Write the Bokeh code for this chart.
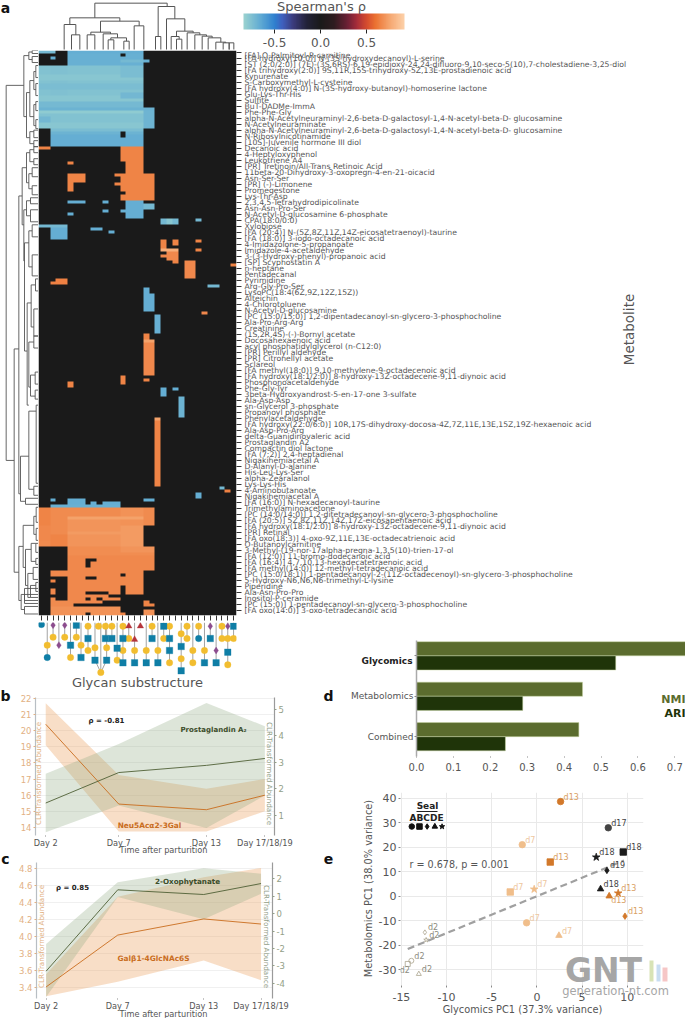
from bokeh.plotting import figure
from bokeh.layouts import column, row
from bokeh.models import Range1d, LinearAxis, FixedTicker, Label, LinearColorMapper, ColorBar, ColumnDataSource, Grid
from bokeh.core.properties import value
from bokeh.embed import file_html
from bokeh.resources import INLINE
import numpy as np

FONT = "DejaVu Sans"
GREY = "#555555"

# ------------------------------------------------------------------ heatmap data
METABOLITES = [
 "[FA] O-Palmitoyl-R-carnitine","[FA hydroxy(10:0)] N-(3S-hydroxydecanoyl)-L-serine",
 "[ST (2:0/2:0)] (7E)-(3S,6RS)-6,19-epidioxy-24,24-difluoro-9,10-seco-5(10),7-cholestadiene-3,25-diol",
 "[FA trihydroxy(2:0)]      9S,11R,15S-trihydroxy-5Z,13E-prostadienoic acid","Kynurenate","S-Carboxymethyl-L-cysteine",
 "[FA hydroxy(4:0)] N-(3S-hydroxy-butanoyl)-homoserine lactone","Glu-Lys-Thr-His","Sulfite","BuT-DADMe-ImmA","Phe-Phe-Gly",
 "alpha-N-Acetylneuraminyl-2,6-beta-D-galactosyl-1,4-N-acetyl-beta-D- glucosamine","N-Acetylneuraminate",
 "alpha-N-Acetylneuraminyl-2,6-beta-D-galactosyl-1,4-N-acetyl-beta-D- glucosamine","N-Ribosylnicotinamide",
 "[10S]-Juvenile hormone III diol","Decanoic acid","4-Heptyloxyphenol","Leukotriene A4",
 "[PR] Tretinoin/All-Trans Retinoic Acid","11beta-20-Dihydroxy-3-oxopregn-4-en-21-oicacid","Asn-Ser-Ser","[PR] (-)-Limonene",
 "Promegestone","Lys-Thr-Asp","2,3,4,5-Tetrahydrodipicolinate","Asn-Asn-Pro-Ser","N-Acetyl-D-glucosamine 6-phosphate",
 "CPA(18:0/0:0)","Xylobiose","[FA (20:4)] N-(5Z,8Z,11Z,14Z-eicosatetraenoyl)-taurine","[FA (18:0)] 3-iodo-octadecanoic acid",
 "4-Imidazolone-5-propanoate","Imidazole-4-acetaldehyde","3-(3-Hydroxy-phenyl)-propanoic acid","[SP] Scyphostatin A","n-heptane",
 "Pentadecanal","Pyrimidine","Arg-Gly-Pro-Ser","LysoPC(18:4(6Z,9Z,12Z,15Z))","Alteichin","4-Chlorotoluene","N-Acetyl-D-glucosamine",
 "[PC (15:0/15:0)] 1,2-dipentadecanoyl-sn-glycero-3-phosphocholine","Ala-Pro-Arg-Arg","Creatinine","(1S,2R,4S)-(-)-Bornyl acetate",
 "Docosahexaenoic acid","acyl phosphatidylglycerol (n-C12:0)","[PR] Perillyl aldehyde","[PR] Citronellyl acetate","Sclareol",
 "[FA methyl(18:0)]        9,10-methylene-9-octadecenoic acid","[FA hydroxy(18:1/2:0)] 8-hydroxy-13Z-octadecene-9,11-diynoic acid",
 "Phosphonoacetaldehyde","Phe-Gly-Tyr","3beta-Hydroxyandrost-5-en-17-one 3-sulfate","Ala-Asp-Asp","sn-Glycerol 3-phosphate",
 "Propanoyl phosphate","Phenylacetaldehyde","[FA hydroxy(22:0/6:0)] 10R,17S-dihydroxy-docosa-4Z,7Z,11E,13E,15Z,19Z-hexaenoic acid",
 "Ala-Asp-Pro-Arg","delta-Guanidinovaleric acid","Prostaglandin A2","Compactin diol lactone","[FA (7:2)] 2,4-heptadienal",
 "Nigakihemiacetal A","D-Alanyl-D-alanine","His-Leu-Lys-Ser","alpha-Zearalanol","Lys-Lys-His","4-Aminobutanoate","Nigakihemiacetal A",
 "[FA (16:0)] N-hexadecanoyl-taurine","Trimethylaminoacetone","[PC (14:0/14:0)] 1,2-ditetradecanoyl-sn-glycero-3-phosphocholine",
 "[FA (20:5)] 5Z,8Z,11Z,14Z,17Z-eicosapentaenoic acid","[FA hydroxy(18:1/2:0)] 8-hydroxy-13Z-octadecene-9,11-diynoic acid",
 "[PR] Retinal","[FA oxo(18:3)] 4-oxo-9Z,11E,13E-octadecatrienoic acid","O-Butanoylcarnitine",
 "3-Methyl-(19-nor-17alpha-pregna-1,3,5(10)-trien-17-ol","[FA (12:0)] 11-bromo-dodecanoic acid",
 "[FA (16:4)] 4,7,10,13-hexadecatetraenoic acid","[FA methyl(14:0)] 12-methyl-tetradecanoic acid",
 "[PC (15:0/18:1)] 1-pentadecanoyl-2-(11Z-octadecenoyl)-sn-glycero-3-phosphocholine","5-Hydroxy-N6,N6,N6-trimethyl-L-lysine",
 "Piperidine","Ala-Asn-Pro-Pro","Inositol-P-ceramide","[PC (15:0)] 1-pentadecanoyl-sn-glycero-3-phosphocholine",
 "[FA oxo(14:0)] 3-oxo-tetradecanoic acid",
]
N_ROWS = 188
N_COLS = 34

# (first row, end row, first column, end column, Spearman rho) - later entries overwrite earlier ones
BLUE_TOP = [
 (0,1,0,3,-.72),(0,1,5,18,-.67),(1,5,5,18,-.68),(2,3,2,3,-.67),(1,2,14,15,0),(3,4,14,18,-.72),(3,4,18,19,-.68),
 (5,8,0,2,-.70),(5,19,0,18,-.76),(5,19,2,5,-.75),(8,10,0,18,-.78),(11,13,0,18,-.74),(15,17,0,18,-.78),(17,19,0,18,-.72),
 (5,9,14,18,-.74),(14,16,14,18,-.71),
 (19,26,0,20,-.76),(19,20,0,20,-.69),(20,21,0,20,-.80),(20,26,18,20,-.70),(22,24,0,2,-.71),(24,26,0,18,-.78),
 (26,32,2,18,-.69),(28,32,2,18,-.67),(26,27,2,18,-.74),(27,29,14,15,0),
]
ORANGE_UPPER = [
 (32,33,0,2,.65),(32,37,14,18,.65),(37,41,15,18,.65),(41,50,14,20,.65),(41,42,13,14,.65),(44,45,13,14,.65),(47,48,14,15,0),
 (41,44,5,8,.65),(44,47,5,6,.65),(37,38,5,6,.65),
]
SCATTERED = [
 (50,51,5,8,-.67),(50,51,11,12,-.67),(50,56,15,18,-.67),(51,53,18,20,-.72),(53,54,11,12,-.67),(53,54,14,15,-.68),(54,55,5,6,-.67),
 (56,58,21,24,-.72),(56,58,22,23,-.78),(56,57,27,28,-.72),(58,59,0,5,-.72),(59,63,2,5,-.67),(59,60,9,11,-.67),(60,61,12,13,-.67),
 (63,67,21,22,.65),(63,65,23,24,.65),(63,64,27,28,.65),(66,67,21,24,.78),(66,67,27,28,.65),(67,70,22,24,.66),(68,69,21,22,.66),(70,71,23,24,.65),
 (71,72,33,34,.65),(70,76,25,27,.66),(76,77,3,5,.64),(77,78,2,5,.64),(78,79,29,31,-.72),(79,81,18,19,-.67),(81,87,18,20,-.67),
 (87,88,28,29,.66),(88,94,20,21,-.68),(94,96,18,19,.65),(96,97,18,20,.74),(97,108,18,20,.66),(109,110,18,19,.65),(108,111,14,15,.65),
 (110,112,5,6,.65),(112,115,21,22,-.67),(112,113,23,24,-.67),(115,122,24,25,-.69),(122,123,20,21,.74),(123,145,20,21,.65),
 (145,146,31,32,-.72),(146,147,32,33,.64),(147,149,27,28,-.67),
 (149,150,2,3,-.67),(149,150,5,8,-.67),(149,150,18,20,-.67),(150,151,5,8,-.67),(150,151,9,10,-.67),(150,151,11,14,-.67),(151,152,2,14,-.68),
]
ORANGE_LOWER = [
 (152,158,0,20,.67),(152,158,0,2,.65),(152,158,14,18,.69),(155,158,5,14,.7),(158,165,0,18,.67),(158,165,5,14,.7),(158,165,14,18,.72),
 (158,163,0,2,.66),(161,165,2,5,.65),(155,156,5,18,.74),(160,161,5,18,.72),
 (165,173,5,20,.66),(165,168,5,20,.68),(165,167,14,20,.7),(169,170,8,10,0),(170,172,8,9,0),
 (173,181,5,18,.66),(173,175,2,5,.66),(174,175,14,15,0),(175,176,8,10,0),(176,177,2,3,.65),(178,188,14,15,0),
 (179,181,2,3,.66),(180,181,8,12,0),(181,182,8,11,0),(181,188,5,14,.66),(181,182,12,14,0),(182,183,8,9,0),(182,183,10,11,0),
 (183,184,11,14,0),(183,188,2,6,.67),(182,183,2,3,.67),(184,185,6,14,0),(183,184,18,19,.65),(184,185,18,20,.65),(186,188,18,20,.69),
 (185,188,2,14,.69),(187,188,8,9,0),(187,188,14,15,.65),
]

# ------------------------------------------------------------------ colour scale
CBAR_LOW, CBAR_HIGH = -.838, .913
RHO_STOPS = [-.838,-.65,-.5,-.42,-.3,-.15,0,.15,.3,.4,.5,.6,.75,.913]
RGB_STOPS = ["#9ad2d0","#5ea9d3","#2f80cf","#3f60bf","#3b3b7c","#222238","#1a1a1a","#2f1b20","#6f2036","#a82d3a","#d44b2f","#ec7231","#f5a56e","#fdd0a8"]

# ------------------------------------------------------------------ dendrograms (picture units: 1/3 pixel)
# (x left child, height left child, x right child, height right child, merge height)
TOP_MERGES = [
 (175,52,392,18,8),(100,72,250,62,52),(83,147,118,103,72),(105,147,130,147,103),(192,95,308,76,62),(293,147,322,147,76),
 (163,103,222,100,95),(152,147,175,147,103),(200,147,243,112,100),(223,118,270,122,112),(215,147,232,147,118),(262,147,278,147,122),
 (365,108,415,55,18),(357,147,373,147,108),(390,147,445,92,55),(420,108,470,97,92),(404,147,428,116,108),(420,147,436,147,116),
 (452,147,490,103,97),(475,147,510,107,103),(497,147,527,112,107),(515,147,553,125,112),(538,147,568,127,125),(560,147,578,147,127),
 (578,147,592,147,127),
]
# (x of merge, row of first child, x of first child, row of second child, x of second child)
LEFT_MERGES = [
 (17,11.6,70,136.4,41),(70,1.7,85,22,78),(85,.5,95,3,95),(95,0,114,1,114),(95,2,114,4,114),(78,14,88,29,88),(88,10,100,22,100),
 (100,7,106,13,106),(106,5,114,9,114),(106,11,114,15,114),(100,18,106,25,106),(106,17,114,20,114),(106,23,114,26,114),
 (88,27,100,31,100),(100,26.5,114,29,114),(100,30,114,32,114),
 (41,99.3,55,173.6,55),(55,48.4,65,147.5,60),(65,39,78,58,70),(78,34,88,44,85),(88,33,100,37,100),(100,32,114,34,114),(100,36,114,38,114),
 (85,41,95,46,95),(95,39,114,42,114),(95,45,110,48,114),(70,53,78,70,72),(78,50,90,55,90),(90,49,114,51,114),(90,53,114,57,114),
 (72,64,85,100,80),(85,60,95,72,95),(95,58,114,62,114),(95,68,114,75,114),(80,84,92,118,85),(92,78,105,92,100),(105,76,114,80,114),
 (100,86,114,95,114),(85,97,100,112,90),(100,95,114,99,114),(90,108,104,115,104),(104,107,114,111,114),(104,113,114,116,114),
 (60,135,85,150,75),(75,149,114,151,114),(85,120,107,146,100),(107,118,114,144,114),(100,145,114,148,114),
 (55,165,68,183,62),(68,158,100,172,75),(100,155,107,161,107),(107,152,114,157,114),(107,159,114,163,114),
 (75,166,92,178,82),(92,164,106,170,106),(106,164,114,167,114),(106,169,114,171,114),(82,174,98,182,90),(98,172,114,176,114),(90,178,106,182,114),
 (106,177,114,180,114),(62,181,72,186,72),(72,179,114,183,114),(72,185,114,187.5,114),(72,181,114,184,114),
]

# ------------------------------------------------------------------ glycan cartoons: (column, depth, kind)
GLYCAN_NODES = [
 (0,42,"glc"),(2,44,"neu"),(2,80,"gal"),(1,104,"gal"),(1,141,"glc"),(4,44,"neu"),(4,80,"gal"),(3,104,"neu"),(5,104,"nac"),(5,141,"gal"),
 (6,44,"nac"),(6,80,"gal"),(6.8,104,"gal"),(6.8,141,"nac"),(8,47,"gal"),(8,84,"nac"),(8,120,"gal"),(9.2,112,"gal"),(9.2,149,"nac"),
 (9.8,47,"gal"),(11,47,"gal"),(11,84,"nac"),(11.2,112,"gal"),(11.2,149,"nac"),(12.1,47,"gal"),(12.1,84,"nac"),(13,113,"nac"),(13,149,"gal"),
 (10.2,186,"gal"),(14,47,"gal"),(14,84,"nac"),(14,120,"gal"),(14,157,"nac"),(15,47,"fuc"),(15,84,"gal"),(16,87,"fuc"),(16,120,"gal"),(16,157,"nac"),
 (17,47,"fuc"),(18,120,"gal"),(18,157,"nac"),(19,47,"gal"),(19,84,"nac"),(20,120,"gal"),(20,157,"nac"),(21,47,"nac"),(21,84,"gal"),
 (22,47,"gal"),(22,84,"nac"),(22,120,"nac"),(22,157,"gal"),(24,70,"gal"),(24,108,"nac"),(24,145,"gal"),(24,181,"nac"),(25,47,"gal"),(25,84,"gal"),
 (26,120,"gal"),(26,157,"gal"),(27,47,"gal"),(27,84,"glc"),(28,120,"gal"),(28,157,"nac"),(29,47,"neu"),(29,84,"nac"),(30,120,"neu"),(30,157,"nac"),
 (31,47,"gal"),(31,84,"gal"),(32,47,"neu"),(32,84,"gal"),(32,125,"nac"),(32,163,"gal"),(33,47,"nac"),(33,84,"gal"),
]
GLYCAN_STYLE = {"gal":("circle","#f2bd2f"),"nac":("square","#0f7ea6"),"glc":("circle","#0f7ea6"),
                "neu":("diamond","#8c4c8e"),"fuc":("triangle","#b5343a")}

# ------------------------------------------------------------------ panels b, c
DAYS = [2,7,13,17]
DAY_LABELS = {2:"Day 2",7:"Day 7",13:"Day 13",17:"Day 17/18/19"}
B_NEU = [20.4,15.45,15.1,16.0]
B_NEU_HI = [21.7,17.25,16.4,17.0]
B_NEU_LO = [19.1,13.75,13.75,15.0]
B_PG = [1.47,2.62,2.89,3.15]
B_PG_HI = [2.57,3.7,5.24,4.37]
B_PG_LO = [.37,1.38,.53,1.75]
C_GAL = [3.41,4.02,4.21,4.15]
C_GAL_HI = [3.56,4.47,4.70,4.81]
C_GAL_LO = [3.30,3.47,3.72,3.49]
C_OXO = [-3.31,1.37,1.10,1.73]
C_OXO_HI = [-1.74,1.81,2.61,2.29]
C_OXO_LO = [-4.8,.95,-.32,1.14]

# ------------------------------------------------------------------ panel d
D_GROUPS = ["Combined","Metabolomics","Glycomics"]
D_NMI = [.44,.45,.735]
D_ARI = [.241,.288,.54]

# ------------------------------------------------------------------ panel e
E_X = [2.62,7.9,-1.62,9.56,6.57,1.48,7.75,-2.95,-.3,7.05,9.0,8.0,9.75,-1.14,2.44,-12.4,-12.26,-13.9,-14.3,-13.07]
E_Y = [38.6,27.9,21.0,18.0,15.9,13.9,10.5,1.7,2.8,2.9,1.2,0,-8.2,-10.9,-16.1,-14.8,-17.9,-26.4,-27.7,-31.8]
E_SEAL = ["circle","circle","circle","square","star","square","diamond","square","star","triangle","star","triangle","diamond","circle","triangle","diamond","star","circle","square","triangle"]
E_DAY = ["d13","d17","d7","d18","d18","d13","d19","d7","d7","d18","d13","d13","d13","d7","d7","d2","d2","d2","d2","d2"]
E_FIT_X = [-14.3,9.64]
E_FIT_Y = [-21.6,14.5]
SEAL_LEG_X = [-13.85,-13.0,-12.15,-11.3,-10.5]
SEAL_LEG_Y = [28.4]*5
SEAL_LEG_M = ["circle","square","diamond","triangle","star"]

# ------------------------------------------------------------------ helpers
def base(w, h, frame, xr, yr, **kw):
    """frame = (left, top, right, bottom) borders in px inside the figure."""
    l, t, r, b = frame
    p = figure(width=w, height=h, x_range=xr, y_range=yr, output_backend="svg", toolbar_location=None,
               min_border_left=l, min_border_top=t, min_border_right=r, min_border_bottom=b,
               outline_line_color=None, background_fill_color=None, border_fill_color=None,
               x_axis_location=None, y_axis_location=None, frame_align=False, **kw)
    p.grid.visible = False
    return p

def style_ticks(ax, fs, color=GREY):
    ax.major_label_text_font = FONT
    ax.major_label_text_font_size = f"{fs}px"
    ax.major_label_text_color = color
    ax.minor_tick_line_color = None

# transparent page-wide figure that carries the free-standing texts (units: page pixels)
PAGE_W, PAGE_H = 685, 1018
over = base(PAGE_W, PAGE_H, (0, 0, 0, 0), Range1d(0, PAGE_W), Range1d(PAGE_H, 0), margin=(-PAGE_H, 0, 0, 0))

def T(px, py, s, fs, color=GREY, bold=False, angle=0, align="center"):
    over.add_layout(Label(x=px, y=py, text=s, text_color=color, text_font=FONT, text_font_size=f"{fs}px",
                          text_font_style="bold" if bold else "normal", angle=angle, angle_units="deg",
                          text_align=align, text_baseline="middle"))

# ------------------------------------------------------------------ a: heatmap
Z = np.zeros((N_ROWS, N_COLS))
for r0, r1, c0, c1, v in BLUE_TOP + ORANGE_UPPER + SCATTERED + ORANGE_LOWER:
    Z[r0:r1, c0:c1] = v

def hex2rgb(h):
    return [int(h[i:i+2], 16) for i in (1, 3, 5)]
grid = np.linspace(CBAR_LOW, CBAR_HIGH, 256)
stops = np.array([hex2rgb(c) for c in RGB_STOPS], float)
palette = ["#%02x%02x%02x" % tuple(int(round(np.interp(g, RHO_STOPS, stops[:, k]))) for k in range(3)) for g in grid]
mapper = LinearColorMapper(palette=palette, low=CBAR_LOW, high=CBAR_HIGH)

heat = base(647, 572, (0, 0, 449, 7), Range1d(0, N_COLS), Range1d(N_ROWS, 0))
heat.image(image=[Z], x=0, y=0, dw=N_COLS, dh=N_ROWS, color_mapper=mapper)
yax = LinearAxis(ticker=FixedTicker(ticks=[2 * k + .5 for k in range(len(METABOLITES))]),
                 major_label_overrides={2 * k + .5: m for k, m in enumerate(METABOLITES)})
style_ticks(yax, 7.7)
yax.axis_line_color = None
yax.major_tick_in = 0
yax.major_tick_out = 5
yax.major_tick_line_color = "#333333"
yax.major_label_standoff = 3
heat.add_layout(yax, "right")
xax = LinearAxis(ticker=FixedTicker(ticks=[c_ + .5 for c_ in range(N_COLS)]),
                 major_label_overrides={c_ + .5: "" for c_ in range(N_COLS)})
xax.axis_line_color = None
xax.major_tick_in = 0
xax.major_tick_out = 5
xax.major_tick_line_color = "#333333"
xax.minor_tick_line_color = None
heat.add_layout(xax, "below")
T(628, 329, "Metabolite", 13.5, angle=90)

dtop = base(236, 50, (38, 0, 0, 0), Range1d(6, 600), Range1d(150, 0))
dtop.multi_line([[a, a, c_, c_] for a, b_, c_, d_, h in TOP_MERGES], [[b_, h, h, d_] for a, b_, c_, d_, h in TOP_MERGES],
                line_color="#555555", line_width=1)
T(5, 7, "a", 14, color="#111111", bold=True)

dleft = base(38, 572, (0, 0, 0, 7), Range1d(0, 114), Range1d(N_ROWS, 0))
dleft.multi_line([[xa, xp, xp, xb] for xp, fa, xa, fb, xb in LEFT_MERGES], [[fa, fa, fb, fb] for xp, fa, xa, fb, xb in LEFT_MERGES],
                 line_color="#555555", line_width=.9)

cbar = base(449, 50, (0, 0, 0, 0), Range1d(0, 449), Range1d(50, 0))
cb = ColorBar(color_mapper=mapper, orientation="horizontal", location=(7, 1), width=161, height=16,
              ticker=FixedTicker(ticks=[-.5, 0, .5]), major_label_overrides={-.5: "-0.5", 0: "0.0", .5: "0.5"},
              major_label_text_font=FONT, major_label_text_font_size="12px", major_label_text_color=GREY,
              major_tick_line_color="#222222", major_tick_in=0, major_tick_out=4, label_standoff=4,
              bar_line_color=None, minor_tick_line_color=None, background_fill_color=None, border_line_color=None,
              margin=0, padding=0)
cbar.add_layout(cb, "center")
T(321, 6, "Spearman's \u03c1", 13)

glyc = base(320, 68, (38, 0, 84, 0), Range1d(0, N_COLS), Range1d(240, 36))
deep = {}
for c_, d_, k_ in GLYCAN_NODES:
    deep[c_] = max(deep.get(c_, 0), d_)
glyc.segment(x0=[c_ + .5 for c_ in deep], y0=[36] * len(deep), x1=[c_ + .5 for c_ in deep], y1=list(deep.values()),
             line_color="#8a8a8a", line_width=.8)
glyc.segment(x0=[9.7, 11.7], y0=[149, 149], x1=[10.7, 10.7], y1=[186, 186], line_color="#8a8a8a", line_width=.8)
for kind, (mk, col) in GLYCAN_STYLE.items():
    pts = [(c_ + .5, d_) for c_, d_, k_ in GLYCAN_NODES if k_ == kind]
    glyc.scatter([a for a, b_ in pts], [b_ for a, b_ in pts], marker=mk, size=6.5 if mk != "diamond" else 7,
                 fill_color=col, line_color=col, line_width=.3)
T(137, 682, "Glycan substructure", 13)

ORANGE, GREEN = "#c96d1e", "#4f6035"
BAND_O, BAND_G = "#eb9b56", "#8fa981"
TICK_O, TICK_G = "#e2b184", "#93a088"

def time_panel(w, h, frame, xr, ly, ry, lticks, rticks, O, OH, OL, G, GH, GL, left_fmt=None):
    p = base(w, h, frame, xr, ly)
    p.extra_y_ranges = {"r": ry}
    la = LinearAxis(ticker=FixedTicker(ticks=lticks))
    if left_fmt:
        la.major_label_overrides = left_fmt
    style_ticks(la, 8.5, TICK_O)
    la.axis_line_color = "#b8bec4"
    la.axis_line_width = 1.2
    la.major_tick_line_color = TICK_O
    la.major_tick_in, la.major_tick_out = 0, 2
    la.major_label_standoff = 2
    p.add_layout(la, "left")
    p.add_layout(Grid(dimension=1, ticker=la.ticker, grid_line_color="#f0f0f0"))
    p.varea(DAYS, OL, OH, fill_color=BAND_O, fill_alpha=.33)
    p.varea(DAYS, GL, GH, fill_color=BAND_G, fill_alpha=.3, y_range_name="r")
    p.line(DAYS, O, line_color=ORANGE, line_width=.9)
    p.line(DAYS, G, line_color=GREEN, line_width=.9, y_range_name="r")
    ra = LinearAxis(y_range_name="r", ticker=FixedTicker(ticks=rticks),
                    major_label_overrides={t: str(t) for t in rticks})
    style_ticks(ra, 8.5, TICK_G)
    ra.axis_line_color = "#9a9a9a"
    ra.axis_line_width = 1.2
    ra.major_tick_line_color = TICK_G
    ra.major_tick_in, ra.major_tick_out = 0, 2
    ra.major_label_standoff = 2
    p.add_layout(ra, "right")
    xa = LinearAxis(ticker=FixedTicker(ticks=DAYS), major_label_overrides=DAY_LABELS)
    style_ticks(xa, 8.2)
    xa.axis_line_color = None
    xa.major_tick_in, xa.major_tick_out = 0, 1
    xa.major_tick_line_color = "#888888"
    xa.major_label_standoff = 1
    p.add_layout(xa, "below")
    return p

b = time_panel(320, 163, (35, 7, 46, 18), Range1d(1.3, 17.66), Range1d(13.5, 22.06), Range1d(.245, 5.45),
               list(range(14, 23)), [1, 2, 3, 4, 5], B_NEU, B_NEU_HI, B_NEU_LO, B_PG, B_PG_HI, B_PG_LO)
T(5, 695, "b", 14, color="#111111", bold=True)
T(106, 720, "\u03c1 = -0.81", 7, color="#222222", bold=True)
T(213, 729, "Prostaglandin A\u2082", 7, color="#3c4d2a", bold=True)
T(149, 825, "Neu5Ac\u03b12-3Gal", 7.4, color=ORANGE, bold=True)
T(38, 773, "CLR-Transformed Abundance", 7.2, color=TICK_O, angle=90)
T(269, 773, "CLR-Transformed Abundance", 7.2, color=TICK_G, angle=-90)
T(163, 849, "Time after parturition", 8.2)

c = time_panel(320, 165, (36, 9, 48, 20), Range1d(1.33, 17.8), Range1d(3.274, 4.874), Range1d(-4.88, 2.94),
               [3.4, 3.6, 3.8, 4.0, 4.2, 4.4, 4.6, 4.8], [-4, -3, -2, -1, 0, 1, 2], C_GAL, C_GAL_HI, C_GAL_LO, C_OXO, C_OXO_HI, C_OXO_LO,
               left_fmt={3.4: "3.4", 3.6: "3.6", 3.8: "3.8", 4.0: "4.0", 4.2: "4.2", 4.4: "4.4", 4.6: "4.6", 4.8: "4.8"})
T(5, 858, "c", 14, color="#111111", bold=True)
T(72, 887, "\u03c1 = 0.85", 7, color="#222222", bold=True)
T(187, 881, "2-Oxophytanate", 7.2, color="#3c4d2a", bold=True)
T(153, 958, "Gal\u03b21-4GlcNAc6S", 7.4, color=ORANGE, bold=True)
T(41, 936, "CLR-Transformed Abundance", 7.2, color=TICK_O, angle=90)
T(266, 936, "CLR-Transformed Abundance", 7.2, color=TICK_G, angle=-90)
T(163, 1013, "Time after parturition", 8.2)

d = base(365, 160, (96, 18, 0, 26), Range1d(0, 269 / 369), Range1d(-.49, 2.38))
ypos = list(range(len(D_GROUPS)))
d.hbar(y=[i + .175 for i in ypos], right=D_NMI, left=0, height=.35, fill_color="#5b6c2e", line_color="#c9d6a5", line_width=.5)
d.hbar(y=[i - .175 for i in ypos], right=D_ARI, left=0, height=.35, fill_color="#1f3409", line_color="#c9d6a5", line_width=.5)
dy = LinearAxis(ticker=FixedTicker(ticks=ypos), major_label_overrides={0: "Combined", 1: "Metabolomics", 2: " "})
style_ticks(dy, 9)
dy.axis_line_color = "#aaaaaa"
dy.axis_line_width = 1.5
dy.major_tick_in, dy.major_tick_out = 0, 2
dy.major_tick_line_color = "#888888"
dy.major_label_standoff = 1
d.add_layout(dy, "left")
dx = LinearAxis(ticker=FixedTicker(ticks=[0, .1, .2, .3, .4, .5, .6, .7]),
                major_label_overrides={0: "0.0", .1: "0.1", .2: "0.2", .3: "0.3", .4: "0.4", .5: "0.5", .6: "0.6", .7: "0.7"})
style_ticks(dx, 10)
dx.axis_line_color = None
dx.major_tick_in, dx.major_tick_out = 0, 1
dx.major_tick_line_color = "#888888"
dx.major_label_standoff = 5
d.add_layout(dx, "below")
T(328, 695, "d", 14, color="#111111", bold=True)
T(412, 660, "Glycomics", 9, color="#222222", bold=True, align="right")
T(685, 699, "NMI", 11, color="#5b6c2e", bold=True, align="right")
T(685, 713, "ARI", 11, color="#1f3409", bold=True, align="right")

e = base(365, 236, (80, 10, 42, 33), Range1d(-15.1, 11.8), Range1d(-36.5, 42.3))
DAY_COL = {"d2": "#a9a28c", "d7": "#f0be8b", "d13": "#d2782a", "d17": "#444444", "d18": "#1c1c1c", "d19": "#1c1c1c"}
LAB_COL = {"d2": "#8c8c80", "d7": "#eec79f", "d13": "#d9a063", "d17": "#444444", "d18": "#444444", "d19": "#444444"}
ex = LinearAxis(ticker=FixedTicker(ticks=[-15, -10, -5, 0, 5, 10]), major_label_overrides={-15: "-15", -10: "-10", -5: "-5", 0: "0", 5: "5", 10: "10"})
ey = LinearAxis(ticker=FixedTicker(ticks=[-30, -20, -10, 0, 10, 20, 30, 40]),
                major_label_overrides={t: str(t) for t in [-30, -20, -10, 0, 10, 20, 30, 40]})
for ax, so in ((ex, 5), (ey, 2)):
    style_ticks(ax, 11)
    ax.axis_line_color = None
    ax.major_tick_in, ax.major_tick_out = 0, 2
    ax.major_tick_line_color = "#888888"
    ax.major_label_standoff = so
e.add_layout(ex, "below")
e.add_layout(ey, "left")
e.add_layout(Grid(dimension=0, ticker=ex.ticker, grid_line_color="#e9e9e9"))
e.add_layout(Grid(dimension=1, ticker=ey.ticker, grid_line_color="#e9e9e9"))
e.line(E_FIT_X, E_FIT_Y, line_color="#a0a0a0", line_width=2.2, line_dash="7 4")
def lab_dx(k, m):
    if k == "d2" and m == "square":
        return -8
    if k == "d13" and m == "triangle":
        return 2
    return 3
def lab_dy(k, m):
    if k == "d2" and m == "square":
        return 11
    if k == "d13" and m == "triangle":
        return 9
    return 0
src = ColumnDataSource(dict(x=E_X, y=E_Y, m=E_SEAL,
                            c=[DAY_COL[k] for k in E_DAY],
                            fa=[0 if k == "d2" else 1 for k in E_DAY],
                            s=[5 if k == "d2" else (8 if m == "star" else 6.5) for k, m in zip(E_DAY, E_SEAL)],
                            t=E_DAY, tc=[LAB_COL[k] for k in E_DAY],
                            dx=[lab_dx(k, m) for k, m in zip(E_DAY, E_SEAL)],
                            dy=[lab_dy(k, m) for k, m in zip(E_DAY, E_SEAL)]))
e.scatter("x", "y", marker="m", size="s", fill_color="c", line_color="c", fill_alpha="fa", line_width=.8, source=src)
e.text("x", "y", text="t", text_color="tc", text_font=value(FONT), text_font_size="8px", x_offset="dx", y_offset="dy",
       text_baseline="bottom", source=src)
e.scatter(SEAL_LEG_X, SEAL_LEG_Y, marker=SEAL_LEG_M, size=5.5, fill_color="#111111", line_color="#111111")
T(328, 858, "e", 14, color="#111111", bold=True)
T(427, 805, "Seal", 9, color="#222222", bold=True)
over.segment(x0=[416], y0=[811], x1=[437], y1=[811], line_color="#222222", line_width=1)
T(426, 817, "ABCDE", 9, color="#222222", bold=True)
T(409, 864, "r = 0.678, p = 0.001", 9.6, align="left")
T(522, 1009, "Glycomics PC1 (37.3% variance)", 9.8)
T(368, 888, "Metabolomics PC1 (38.0% variance)", 9.8, angle=90)
# watermark of the source page
T(603, 970, "GNT", 33, color="#a6a6a6", bold=True)
T(615, 990, "generation-nt.com", 11.5, color="#a6a6a6")
MARK_L = [649, 656, 662]; MARK_R = [653, 660, 667]; MARK_T = [960, 964, 967]; MARK_C = ["#d8e3b6", "#c8ddf2", "#f6c6c6"]
over.quad(left=MARK_L, right=MARK_R, top=MARK_T, bottom=[981] * 3, fill_color=MARK_C, line_color=None)

root = column(row(dtop, cbar), row(dleft, heat), row(column(glyc, b, c), column(d, e)), over)
open("out.html", "w").write(file_html(root, INLINE))
